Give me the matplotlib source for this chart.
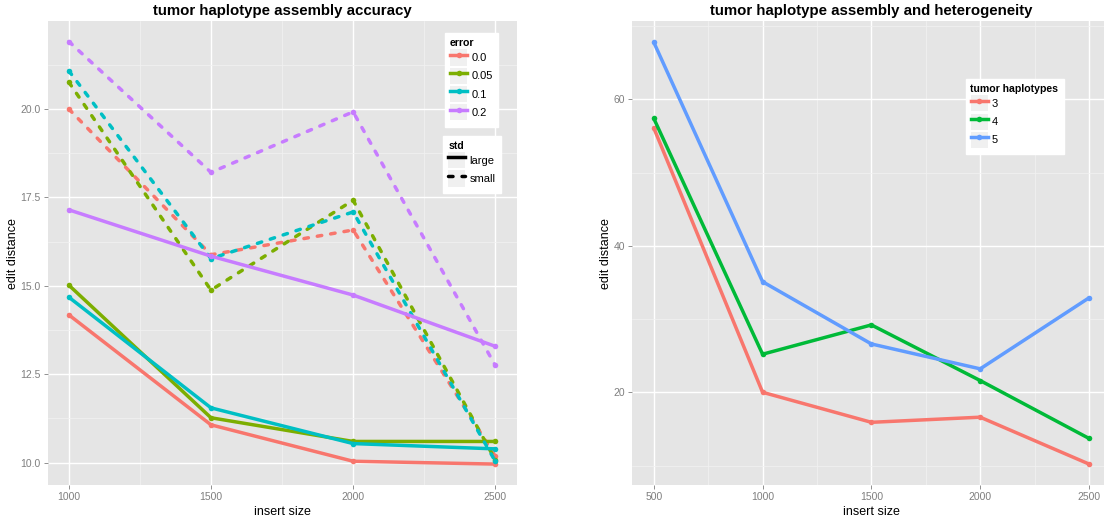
import matplotlib.pyplot as plt
from matplotlib.lines import Line2D
from matplotlib.patches import Rectangle
from matplotlib.legend_handler import HandlerLine2D
from matplotlib.ticker import MultipleLocator

plt.rcParams['font.family'] = ['Liberation Sans', 'DejaVu Sans']

# left panel data
insert_left = [1000, 1500, 2000, 2500]
error_levels = ['0.0', '0.05', '0.1', '0.2']
error_colors = ['#F8766D', '#7CAE00', '#00BFC4', '#C77CFF']
large_e00 = [14.18, 11.07, 10.04, 9.96]
large_e05 = [15.02, 11.27, 10.60, 10.60]
large_e10 = [14.68, 11.55, 10.54, 10.39]
large_e20 = [17.15, 15.84, 14.74, 13.29]
small_e00 = [20.00, 15.88, 16.58, 10.18]
small_e05 = [20.76, 14.88, 17.42, 10.08]
small_e10 = [21.08, 15.77, 17.09, 10.04]
small_e20 = [21.91, 18.21, 19.92, 12.75]

# right panel data
insert_right = [500, 1000, 1500, 2000, 2500]
hap_levels = ['3', '4', '5']
hap_colors = ['#F8766D', '#00BA38', '#619CFF']
hap3 = [56.1, 20.0, 15.9, 16.6, 10.2]
hap4 = [57.4, 25.2, 29.2, 21.6, 13.7]
hap5 = [67.8, 35.1, 26.6, 23.2, 32.9]

LW = 2.5
MS = 4
DASH = (1.3, 2.6)


class KeyHandler(HandlerLine2D):
    # grey key box behind each legend entry, ggplot style
    def create_artists(self, legend, orig_handle, xdescent, ydescent,
                       width, height, fontsize, trans):
        arts = super().create_artists(legend, orig_handle, xdescent, ydescent,
                                      width, height, fontsize, trans)
        bg = Rectangle((-xdescent, -ydescent + 0.8), width, height - 1.6,
                       facecolor='#F0F0F0', edgecolor='none',
                       transform=trans)
        return [bg] + list(arts)


def style_ax(ax, xmajor, xminor, ymajor, yminor):
    ax.set_facecolor('#E5E5E5')
    ax.xaxis.set_major_locator(MultipleLocator(xmajor))
    ax.xaxis.set_minor_locator(MultipleLocator(xminor))
    ax.yaxis.set_major_locator(MultipleLocator(ymajor))
    ax.yaxis.set_minor_locator(MultipleLocator(yminor))
    ax.grid(which='major', color='white', lw=1.0)
    ax.grid(which='minor', color='#F2F2F2', lw=0.5)
    ax.set_axisbelow(True)
    for s in ax.spines.values():
        s.set_visible(False)
    ax.tick_params(which='major', length=2.9, width=0.6, color='#7F7F7F',
                   labelcolor='#7F7F7F', labelsize=7.5, pad=2.2)
    ax.tick_params(which='minor', length=0)
    ax.set_xlabel('insert size', fontsize=9, labelpad=2.5)
    ax.set_ylabel('edit distance', fontsize=9, labelpad=1)


fig = plt.figure(figsize=(11.04, 5.16), dpi=100)
W, H = 1104, 516
ax1 = fig.add_axes([47.5 / W, (516 - 485.3) / H, 469.1 / W, 464.3 / H])
ax2 = fig.add_axes([632 / W, (516 - 485.3) / H, 478.8 / W, 464.3 / H])

large = [large_e00, large_e05, large_e10, large_e20]
small = [small_e00, small_e05, small_e10, small_e20]
for c, yl, ys in zip(error_colors, large, small):
    ax1.plot(insert_left, yl, color=c, lw=LW, solid_capstyle='round',
             marker='o', ms=MS, mew=0)
    ax1.plot(insert_left, ys, color=c, lw=LW, dashes=DASH,
             dash_capstyle='round', marker='o', ms=MS, mew=0)

ax1.set_xlim(925, 2575)
ax1.set_ylim(9.36, 22.49)
style_ax(ax1, 500, 250, 2.5, 1.25)
ax1.yaxis.set_major_formatter(lambda v, p: '%.1f' % v)
ax1.set_title('tumor haplotype assembly accuracy', fontsize=10.8,
              fontweight='bold', pad=4)

for c, ys in zip(hap_colors, [hap3, hap4, hap5]):
    ax2.plot(insert_right, ys, color=c, lw=LW, solid_capstyle='round',
             marker='o', ms=MS, mew=0)
ax2.set_xlim(400, 2600)
ax2.set_ylim(7.3, 70.7)
style_ax(ax2, 500, 250, 20, 10)
ax2.set_title('tumor haplotype assembly and heterogeneity', fontsize=10.8,
              fontweight='bold', pad=4)

leg_kw = dict(fontsize=8, title_fontproperties={'weight': 'bold', 'size': 7.6},
              alignment='left', frameon=True, fancybox=False,
              facecolor='white', edgecolor='white', framealpha=1,
              handlelength=1.53, handleheight=2.16, handletextpad=0.4,
              labelspacing=0.0, borderpad=0.45, borderaxespad=0,
              loc='upper left', bbox_transform=fig.transFigure,
              handler_map={Line2D: KeyHandler()})

err_handles = [Line2D([], [], color=c, lw=LW, marker='o', ms=MS, mew=0)
               for c in error_colors]
leg1 = ax1.legend(err_handles, error_levels, title='error',
                  bbox_to_anchor=(445 / W, 1 - 33.3 / H), **leg_kw)
ax1.add_artist(leg1)
std_handles = [Line2D([], [], color='black', lw=LW),
               Line2D([], [], color='black', lw=LW, dashes=DASH,
                      dash_capstyle='round')]
ax1.legend(std_handles, ['large', 'small'], title='std',
           bbox_to_anchor=(443.3 / W, 1 - 136 / H), **leg_kw)

hap_handles = [Line2D([], [], color=c, lw=LW, marker='o', ms=MS, mew=0)
               for c in hap_colors]
ax2.legend(hap_handles, hap_levels, title='tumor haplotypes',
           bbox_to_anchor=(965.5 / W, 1 - 79.2 / H), **leg_kw)

fig.savefig('out.png', dpi=100)
